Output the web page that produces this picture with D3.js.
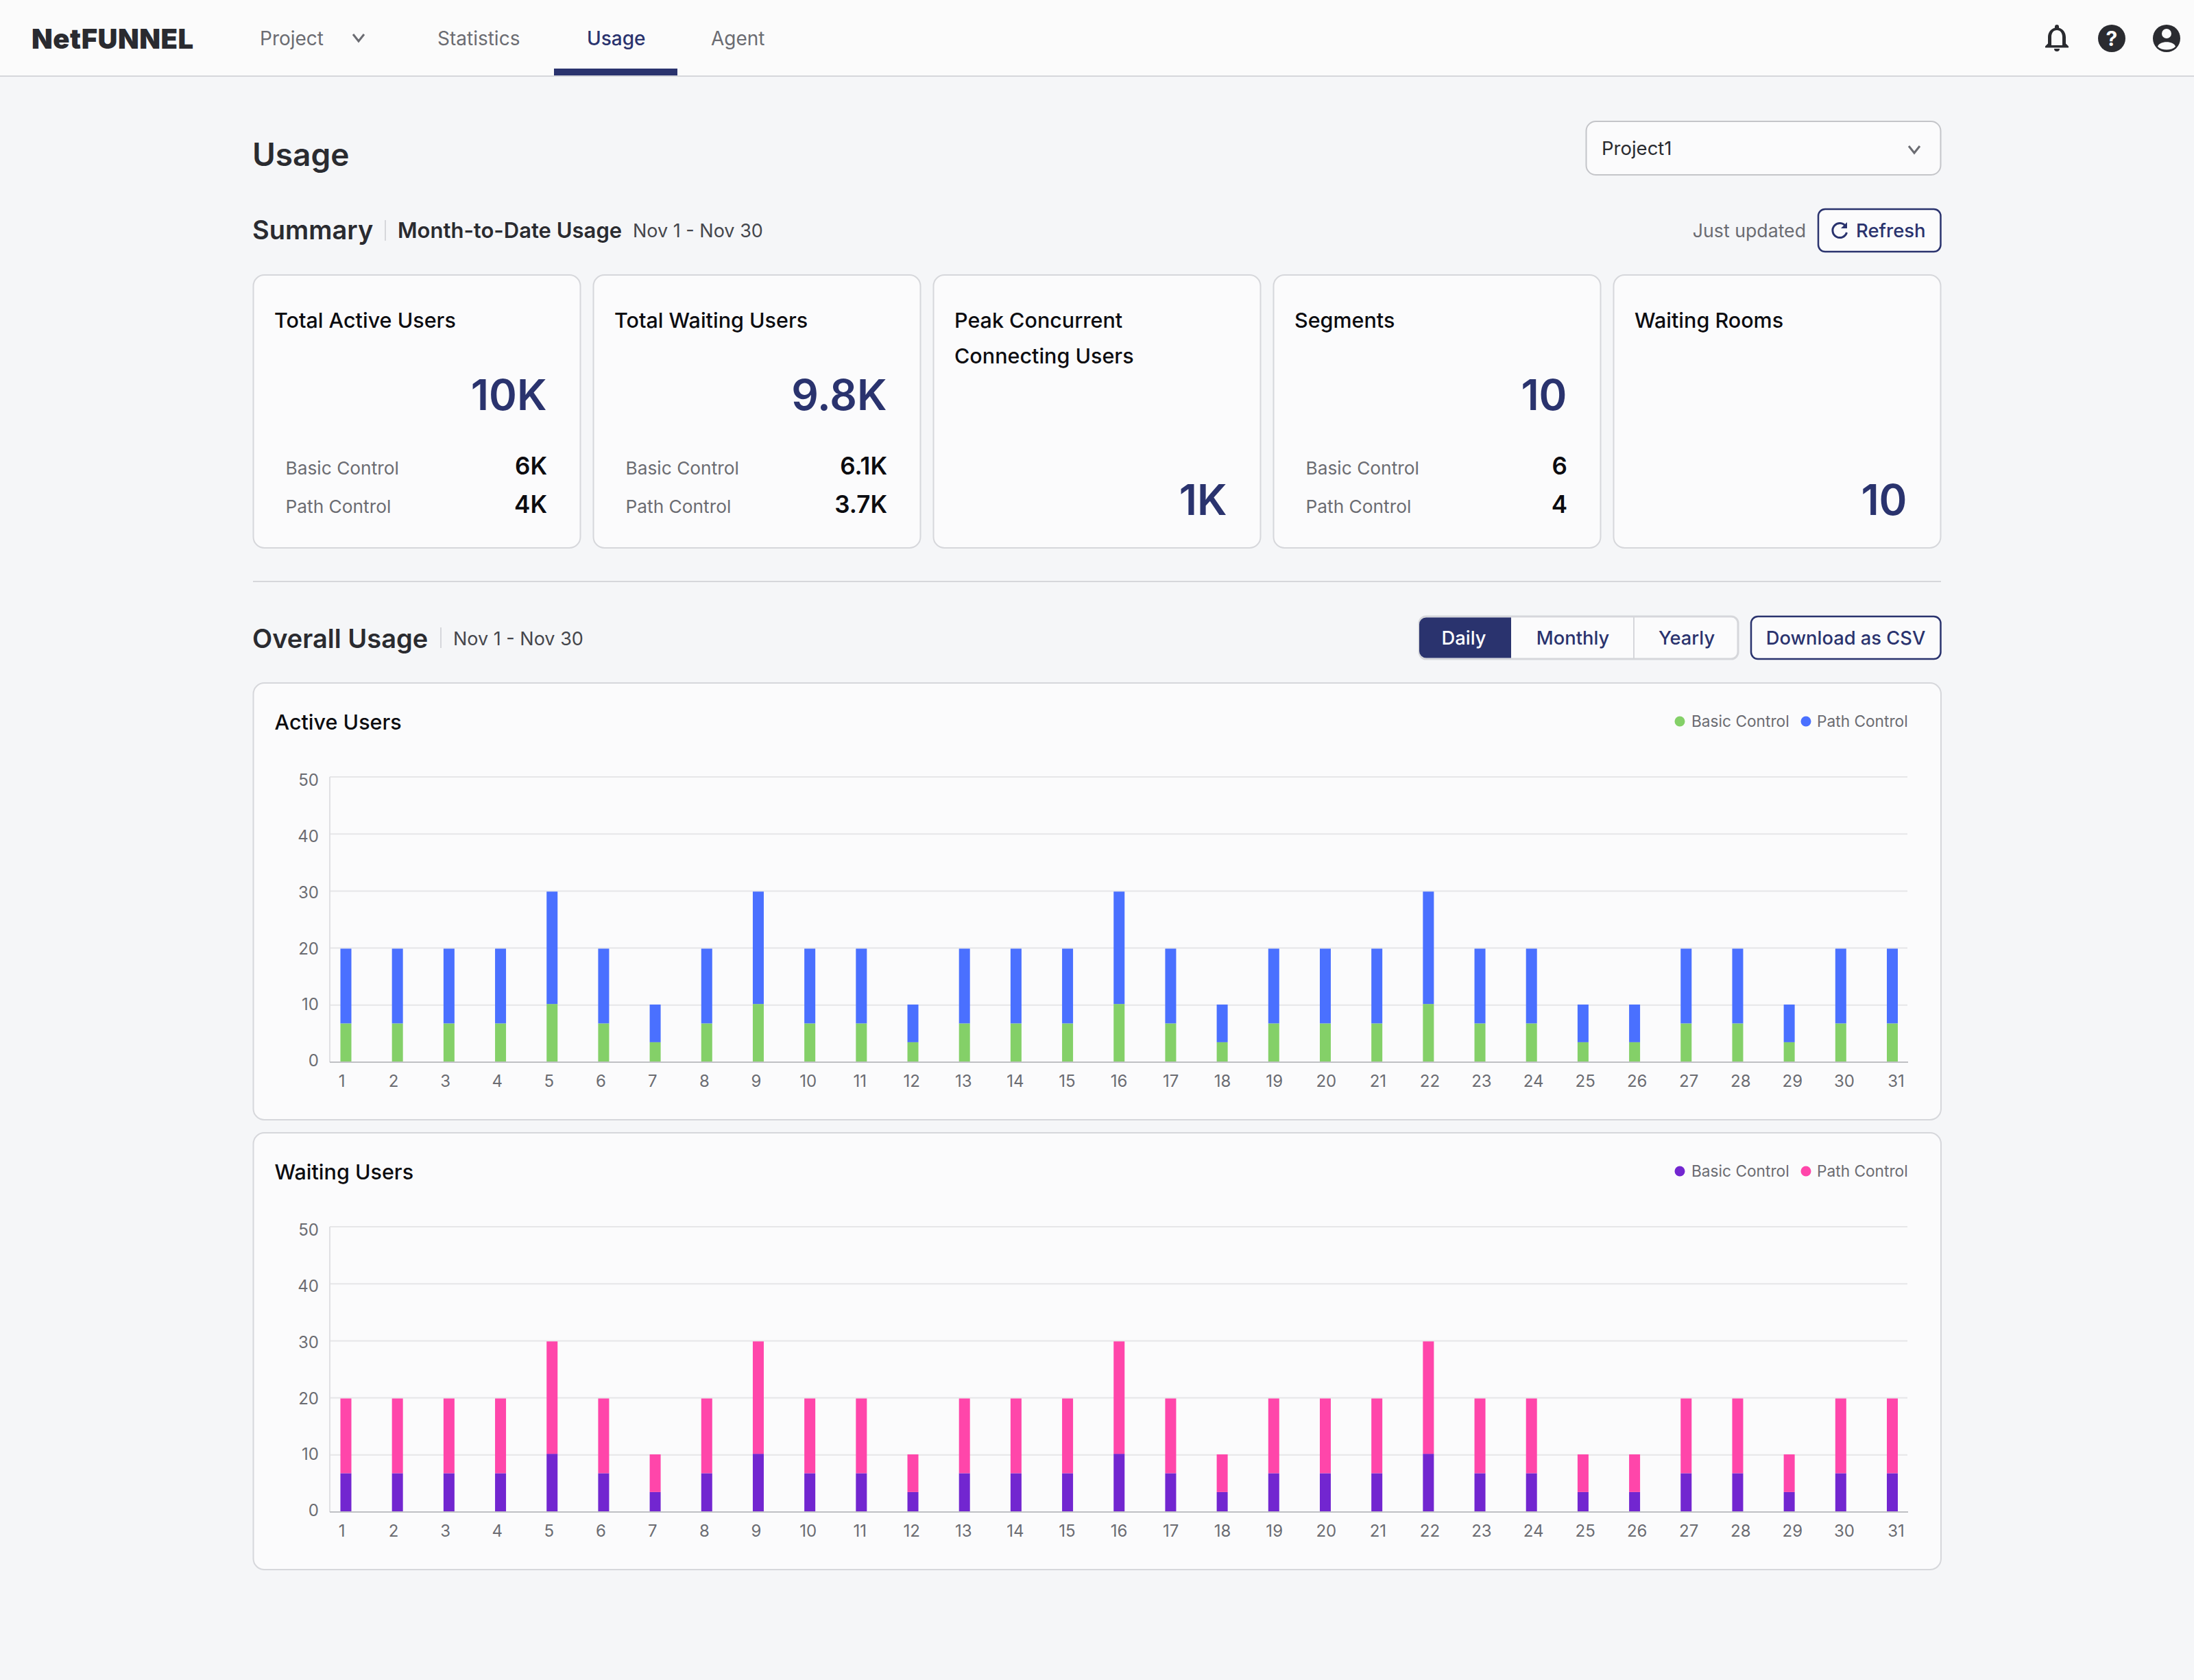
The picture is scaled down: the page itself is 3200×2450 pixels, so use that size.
<!DOCTYPE html>
<html lang="en">
<head>
<meta charset="utf-8">
<title>NetFUNNEL Usage</title>
<style>
  html,body { margin:0; padding:0; background:#f5f6f8; }
  svg { display:block; font-family:Inter, "Noto Sans", sans-serif; }
</style>
<script src="https://d3js.org/d3.v7.min.js"></script>
</head>
<body>
<svg id="page" width="3200" height="2450"></svg>
<script>
const days = d3.range(1, 32).map(String);

// stack parts per day
const activeBasic = [6.8,6.8,6.8,6.8,10.2,6.8,3.5,6.8,10.2,6.8,6.8,3.5,6.8,6.8,6.8,10.2,6.8,3.5,6.8,6.8,6.8,10.2,6.8,6.8,3.5,3.5,6.8,6.8,3.5,6.8,6.8];
const activePath  = [13.1,13.1,13.1,13.1,19.7,13.1,6.6,13.1,19.7,13.1,13.1,6.6,13.1,13.1,13.1,19.7,13.1,6.6,13.1,13.1,13.1,19.7,13.1,13.1,6.6,6.6,13.1,13.1,6.6,13.1,13.1];
const waitingBasic = activeBasic.slice();
const waitingPath  = activePath.slice();
const yTicks = [0,10,20,30,40,50];

const navItems = ["Project","Statistics","Usage","Agent"];
const navX = [379,638,856,1037];
const summaryCards = [
  {title:["Total Active Users"], big:"10K", rows:[["Basic Control","6K"],["Path Control","4K"]]},
  {title:["Total Waiting Users"], big:"9.8K", rows:[["Basic Control","6.1K"],["Path Control","3.7K"]]},
  {title:["Peak Concurrent","Connecting Users"], big:"1K", rows:[]},
  {title:["Segments"], big:"10", rows:[["Basic Control","6"],["Path Control","4"]]},
  {title:["Waiting Rooms"], big:"10", rows:[]}
];

const NAVY = "#2a336e", LINE = "#d6d7db", GREY = "#6b6c72", DARK = "#2a2b30", CARD = "#fbfbfc";
const svg = d3.select("#page");

function txt(g, x, y, s, size, weight, fill, anchor) {
  return g.append("text").attr("x", x).attr("y", y).text(s)
    .attr("font-size", size).attr("font-weight", weight || 400)
    .attr("fill", fill || DARK).attr("text-anchor", anchor || "start");
}
function box(g, x, y, w, h, r, fill, stroke, sw) {
  return g.append("rect").attr("x", x).attr("y", y).attr("width", w).attr("height", h).attr("rx", r)
    .attr("fill", fill).attr("stroke", stroke).attr("stroke-width", sw || 2);
}
function chevron(g, cx, cy, col) {
  g.append("path").attr("d", `M${cx-8},${cy-5}L${cx},${cy+5}L${cx+8},${cy-5}`)
    .attr("fill", "none").attr("stroke", col).attr("stroke-width", 3);
}

// header
svg.append("rect").attr("width", 3200).attr("height", 2450).attr("fill", "#f5f6f8");
svg.append("rect").attr("width", 3200).attr("height", 110).attr("fill", "#fbfbfb");
svg.append("rect").attr("y", 110).attr("width", 3200).attr("height", 2).attr("fill", LINE);
svg.append("rect").attr("x", 808).attr("y", 100).attr("width", 180).attr("height", 10).attr("fill", NAVY);
txt(svg, 46, 71, "NetFUNNEL", 40, 900, DARK).attr("letter-spacing", 0.5);
navItems.forEach((n, i) => txt(svg, navX[i], 66, n, 28, n === "Usage" ? 500 : 400, n === "Usage" ? NAVY : GREY));
chevron(svg, 523, 55, GREY);

// header icons
const bell = svg.append("g").attr("transform", "translate(3000,56)").attr("fill", DARK);
bell.append("path").attr("d", "M0,-20a3,3 0 0 1 3,3v1.5c7,2 10,8 10,14v9l4,4v2h-34v-2l4,-4v-9c0,-6 3,-12 10,-14v-1.5a3,3 0 0 1 3,-3zM-8,10h16v-12c0,-6 -3,-10 -8,-10s-8,4 -8,10z").attr("fill-rule", "evenodd");
bell.append("path").attr("d", "M-4,15h8a4,4 0 0 1 -8,0z");
svg.append("circle").attr("cx", 3080).attr("cy", 56).attr("r", 20).attr("fill", DARK);
txt(svg, 3080, 67, "?", 30, 700, "#fbfbfb", "middle");
svg.append("circle").attr("cx", 3160).attr("cy", 56).attr("r", 20).attr("fill", DARK);
svg.append("circle").attr("cx", 3160).attr("cy", 49).attr("r", 7).attr("fill", "#fbfbfb");
svg.append("path").attr("d", "M3147,68c2,-9 24,-9 26,0c-6,6 -20,6 -26,0z").attr("fill", "#fbfbfb");

// page heading
txt(svg, 368, 242, "Usage", 46, 600, DARK);
box(svg, 2313.5, 177, 517, 78, 14, "#fbfbfc", "#c4c5c9", 2);
txt(svg, 2336, 226, "Project1", 27.5, 400, DARK);
chevron(svg, 2792, 218, GREY);

// summary row
txt(svg, 368, 349, "Summary", 38, 600, DARK);
svg.append("rect").attr("x", 561).attr("y", 321).attr("width", 2).attr("height", 30).attr("fill", LINE);
txt(svg, 580, 347, "Month-to-Date Usage", 31, 600, DARK);
txt(svg, 923, 346, "Nov 1 - Nov 30", 27, 400, "#45464c");
txt(svg, 2634, 346, "Just updated", 26.7, 400, GREY, "end");
box(svg, 2652, 305, 178.5, 62, 10, "#fbfbfc", NAVY, 2.5);
svg.append("path").attr("d", "M2692,330a10.5,10.5 0 1 0 1.5,9").attr("fill", "none").attr("stroke", NAVY).attr("stroke-width", 3);
svg.append("path").attr("d", "M2694,324v9h-9z").attr("fill", NAVY);
txt(svg, 2707, 346, "Refresh", 27.5, 500, NAVY);

summaryCards.forEach((c, i) => {
  const x = 369.5 + i * 496;
  const g = svg.append("g");
  box(g, x, 401, 477, 398, 16, CARD, LINE, 2);
  c.title.forEach((t, j) => txt(g, x + 30.5, 478 + j * 52, t, 30.5, 500, "#0c0c10"));
  const bigY = c.rows.length ? 598 : 751;
  txt(g, x + 428, bigY, c.big, 62, 600, NAVY, "end");
  c.rows.forEach((r, j) => {
    txt(g, x + 47, 692 + j * 56, r[0], 26.3, 400, GREY);
    txt(g, x + 428.5, 692 + j * 56, r[1], 35, 600, "#0c0c10", "end");
  });
});

svg.append("rect").attr("x", 369).attr("y", 847).attr("width", 2462).attr("height", 2).attr("fill", LINE);

// overall usage controls
txt(svg, 368, 945, "Overall Usage", 38, 600, DARK);
svg.append("rect").attr("x", 642).attr("y", 915).attr("width", 2).attr("height", 30).attr("fill", LINE);
txt(svg, 661, 941, "Nov 1 - Nov 30", 27, 400, "#45464c");
box(svg, 2070, 899, 465, 62, 10, "#fbfbfc", LINE, 3);
svg.append("path").attr("d", "M2204,900.5h-124a10,10 0 0 0 -10,10v39a10,10 0 0 0 10,10h124z").attr("fill", NAVY);
svg.append("rect").attr("x", 2382).attr("y", 900).attr("width", 2).attr("height", 60).attr("fill", LINE);
txt(svg, 2135, 940, "Daily", 27.3, 500, "#ffffff", "middle");
txt(svg, 2294, 940, "Monthly", 27.3, 500, NAVY, "middle");
txt(svg, 2460, 940, "Yearly", 27.3, 500, NAVY, "middle");
box(svg, 2554, 899, 276.5, 62, 10, "#fbfbfc", NAVY, 2.5);
txt(svg, 2692, 940, "Download as CSV", 27.3, 500, NAVY, "middle");

function usageChart(top, title, basic, path, colBasic, colPath) {
  const g = svg.append("g").attr("transform", `translate(0,${top})`);
  box(g, 369.5, 1, 2461.5, 637, 16, CARD, LINE, 2);
  txt(g, 400.5, 69, title, 30.5, 500, "#0c0c10");

  const y = d3.scaleLinear().domain([0, 50]).range([554, 138]);
  const x = d3.scalePoint().domain(days).range([504.5, 2760]);
  const xLab = d3.scalePoint().domain(days).range([498, 2765]);
  const yLab = d3.scaleLinear().domain([0, 50]).range([552, 143]);

  // gridlines
  g.append("g").selectAll("line").data(yTicks.filter(d => d > 0)).join("line")
    .attr("x1", 481).attr("x2", 2782).attr("y1", d => y(d)).attr("y2", d => y(d))
    .attr("stroke", "#e6e6e8").attr("stroke-width", 2);
  g.append("line").attr("x1", 481).attr("x2", 481).attr("y1", y(50)).attr("y2", y(0))
    .attr("stroke", "#e0e0e3").attr("stroke-width", 2);

  // stacked bars
  const stack = d3.stack().keys(["basic", "path"])(days.map((d, i) => ({day: d, basic: basic[i], path: path[i]})));
  g.append("g").selectAll("g").data(stack).join("g")
    .attr("fill", (d, i) => i ? colPath : colBasic)
    .selectAll("rect").data(d => d).join("rect")
    .attr("x", d => x(d.data.day) - 8).attr("width", 16)
    .attr("y", d => y(d[1])).attr("height", d => y(d[0]) - y(d[1]));

  g.append("line").attr("x1", 481).attr("x2", 2783).attr("y1", y(0)).attr("y2", y(0))
    .attr("stroke", "#bfc0c4").attr("stroke-width", 2);

  // tick labels sit on their own slightly offset scales, as in the source
  const xAxis = g.append("g").attr("transform", "translate(0,554)")
    .call(d3.axisBottom(xLab).tickSize(0).tickPadding(19));
  const yAxis = g.append("g").attr("transform", "translate(465,0)")
    .call(d3.axisLeft(yLab).tickValues(yTicks).tickSize(0).tickPadding(0));
  [xAxis, yAxis].forEach(a => {
    a.select(".domain").remove();
    a.selectAll("text").attr("font-size", 24).attr("font-family", "Inter").attr("fill", GREY);
  });

  // legend
  g.append("circle").attr("cx", 2450).attr("cy", 57).attr("r", 7.5).attr("fill", colBasic);
  txt(g, 2467, 65, "Basic Control", 22.7, 400, GREY);
  g.append("circle").attr("cx", 2634).attr("cy", 57).attr("r", 7.5).attr("fill", colPath);
  txt(g, 2650, 65, "Path Control", 22.7, 400, GREY);
}

usageChart(995, "Active Users", activeBasic, activePath, "#84d068", "#4a70ff");
usageChart(1651, "Waiting Users", waitingBasic, waitingPath, "#7226d0", "#ff46aa");
</script>
</body>
</html>
